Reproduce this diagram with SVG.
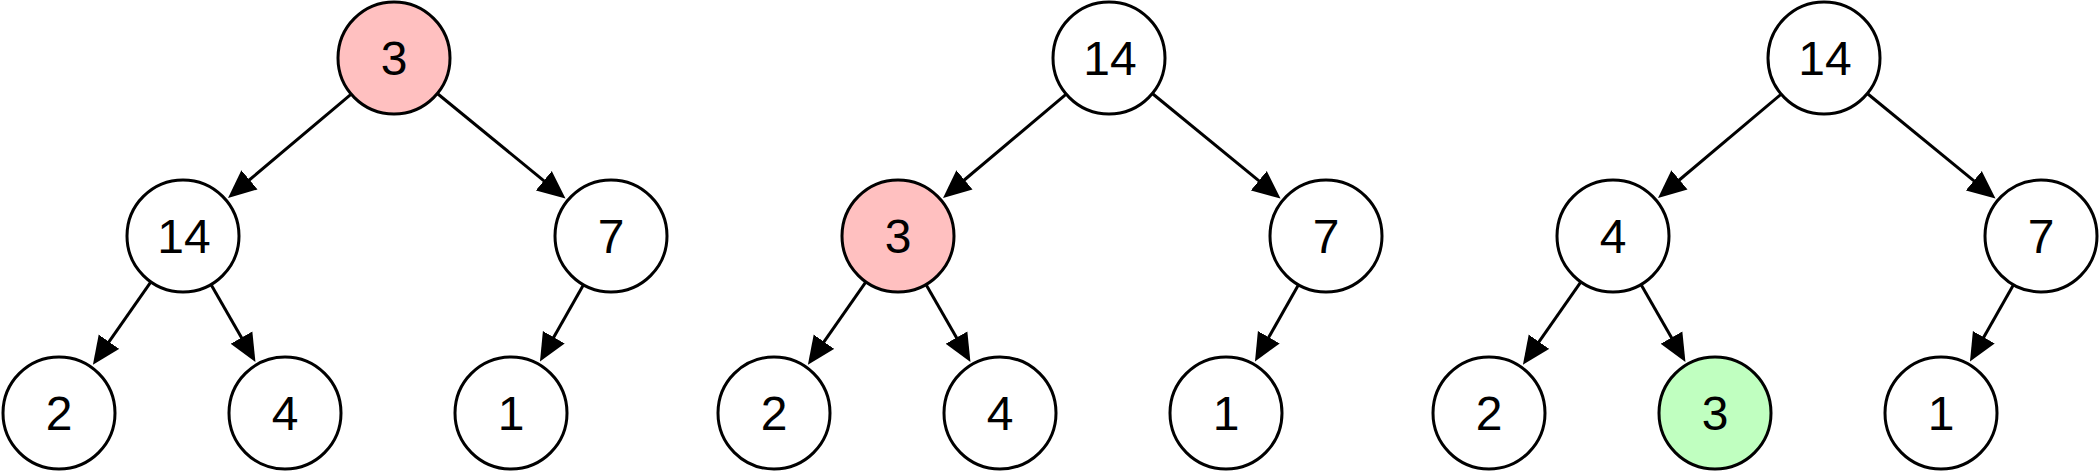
<svg xmlns="http://www.w3.org/2000/svg" width="2099" height="473" viewBox="0 0 2099 473">
<style>
.n circle{fill:#ffffff;stroke:#000000;stroke-width:3}
.n.pink circle{fill:#ffc0c0}
.n.green circle{fill:#c0ffc0}
.n text{font-family:"Liberation Sans",Arial,Helvetica,sans-serif;font-size:48px;fill:#000000;text-anchor:middle}
.e path{fill:none;stroke:#000000;stroke-width:3;marker-end:url(#ah)}
</style>
<defs>
<marker id="ah" markerUnits="userSpaceOnUse" markerWidth="30" markerHeight="26" viewBox="0 -13 30 26" refX="1" refY="0" orient="auto">
<path d="M0,-12.5 L28,0 L0,12.5 Z" fill="#000000"/>
</marker>
</defs>
<rect width="2099" height="473" fill="#ffffff"/>
<g id="connectors" class="e">
<path d="M351.2,94.1 L248.7,180.5"/>
<path d="M437.3,93.5 L544.6,181.4"/>
<path d="M150.9,281.9 L108.4,342.6"/>
<path d="M211.0,284.5 L242.0,338.5"/>
<path d="M583.5,284.8 L553.3,338.1"/>
<path d="M1066.2,94.1 L963.7,180.5"/>
<path d="M1152.3,93.5 L1259.6,181.4"/>
<path d="M865.9,281.9 L823.4,342.6"/>
<path d="M926.0,284.5 L957.0,338.5"/>
<path d="M1298.5,284.8 L1268.3,338.1"/>
<path d="M1781.2,94.1 L1678.7,180.5"/>
<path d="M1867.3,93.5 L1974.6,181.4"/>
<path d="M1580.9,281.9 L1538.4,342.6"/>
<path d="M1641.0,284.5 L1672.0,338.5"/>
<path d="M2013.5,284.8 L1983.3,338.1"/>
</g>
<g id="t1-root" class="n pink"><circle cx="394" cy="58" r="56"/><text x="394" y="74.5">3</text></g>
<g id="t1-l" class="n"><circle cx="183" cy="236" r="56"/><text x="184" y="252.5">14</text></g>
<g id="t1-r" class="n"><circle cx="611" cy="236" r="56"/><text x="611" y="252.5">7</text></g>
<g id="t1-ll" class="n"><circle cx="59" cy="413" r="56"/><text x="59" y="429.5">2</text></g>
<g id="t1-lr" class="n"><circle cx="285" cy="413" r="56"/><text x="285" y="429.5">4</text></g>
<g id="t1-rl" class="n"><circle cx="511" cy="413" r="56"/><text x="511" y="429.5">1</text></g>
<g id="t2-root" class="n"><circle cx="1109" cy="58" r="56"/><text x="1110" y="74.5">14</text></g>
<g id="t2-l" class="n pink"><circle cx="898" cy="236" r="56"/><text x="898" y="252.5">3</text></g>
<g id="t2-r" class="n"><circle cx="1326" cy="236" r="56"/><text x="1326" y="252.5">7</text></g>
<g id="t2-ll" class="n"><circle cx="774" cy="413" r="56"/><text x="774" y="429.5">2</text></g>
<g id="t2-lr" class="n"><circle cx="1000" cy="413" r="56"/><text x="1000" y="429.5">4</text></g>
<g id="t2-rl" class="n"><circle cx="1226" cy="413" r="56"/><text x="1226" y="429.5">1</text></g>
<g id="t3-root" class="n"><circle cx="1824" cy="58" r="56"/><text x="1825" y="74.5">14</text></g>
<g id="t3-l" class="n"><circle cx="1613" cy="236" r="56"/><text x="1613" y="252.5">4</text></g>
<g id="t3-r" class="n"><circle cx="2041" cy="236" r="56"/><text x="2041" y="252.5">7</text></g>
<g id="t3-ll" class="n"><circle cx="1489" cy="413" r="56"/><text x="1489" y="429.5">2</text></g>
<g id="t3-lr" class="n green"><circle cx="1715" cy="413" r="56"/><text x="1715" y="429.5">3</text></g>
<g id="t3-rl" class="n"><circle cx="1941" cy="413" r="56"/><text x="1941" y="429.5">1</text></g>
</svg>
